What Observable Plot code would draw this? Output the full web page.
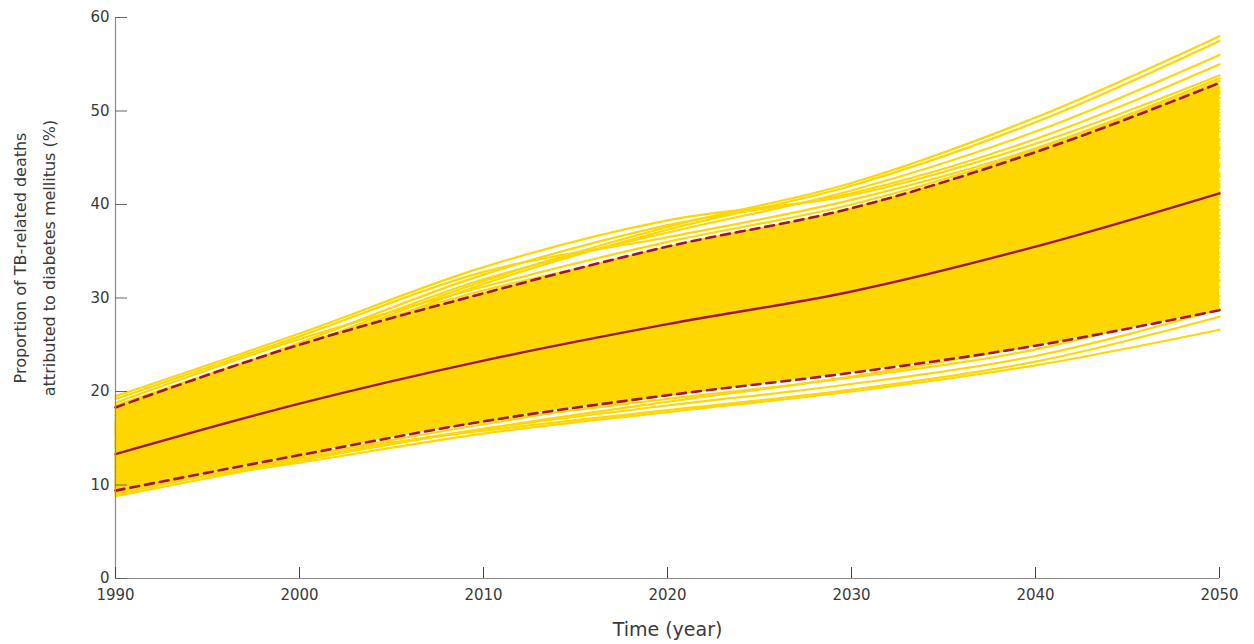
<!DOCTYPE html>
<html>
<head>
<meta charset="utf-8">
<script src="https://cdn.jsdelivr.net/npm/d3@7"></script>
<script src="https://cdn.jsdelivr.net/npm/@observablehq/plot@0.6"></script>
<style>
  html, body { margin: 0; padding: 0; background: #fff; }
  #chart { width: 1254px; height: 644px; }
</style>
</head>
<body>
<div id="chart"></div>
<script>
// ---- Data ----
const years = [1990, 2000, 2010, 2020, 2030, 2040, 2050];

// Individual simulation runs (% of TB-related deaths attributed to diabetes)
const runs = [
  [17.0, 24.5, 31.8, 37.6, 42.3, 49.3, 58.0],
  [16.5, 24.0, 31.5, 37.3, 42.0, 48.8, 57.5],
  [17.5, 24.8, 32.0, 37.0, 41.5, 47.8, 56.0],
  [18.0, 25.2, 32.5, 37.8, 41.2, 47.0, 55.0],
  [19.5, 26.2, 33.3, 38.3, 41.0, 46.5, 53.8],
  [19.2, 25.9, 32.8, 36.5, 40.5, 46.0, 53.5],
  [18.8, 25.6, 31.2, 36.0, 40.0, 45.8, 53.2],
  [18.5, 25.0, 30.8, 35.2, 39.5, 45.4, 52.5],
  [17.8, 24.6, 30.5, 35.0, 39.0, 44.8, 51.8],
  [17.2, 24.0, 30.0, 34.5, 38.6, 44.2, 51.0],
  [16.8, 23.5, 29.5, 34.0, 38.0, 43.5, 50.2],
  [16.3, 23.0, 29.0, 33.5, 37.5, 43.0, 49.5],
  [15.8, 22.5, 28.4, 33.0, 37.0, 42.3, 48.6],
  [15.5, 22.0, 27.8, 32.4, 36.4, 41.6, 47.8],
  [15.0, 21.5, 27.2, 31.8, 35.8, 41.0, 47.0],
  [14.6, 21.0, 26.6, 31.2, 35.1, 40.3, 46.2],
  [14.2, 20.4, 26.0, 30.5, 34.4, 39.5, 45.3],
  [13.8, 19.8, 25.3, 29.8, 33.6, 38.6, 44.4],
  [13.5, 19.3, 24.7, 29.0, 32.8, 37.7, 43.4],
  [13.0, 18.8, 24.0, 28.2, 32.0, 36.8, 42.5],
  [12.7, 18.3, 23.3, 27.5, 31.2, 35.9, 41.4],
  [12.3, 17.7, 22.6, 26.7, 30.4, 35.0, 40.4],
  [12.0, 17.2, 22.0, 26.0, 29.6, 34.1, 39.4],
  [11.6, 16.7, 21.4, 25.2, 28.8, 33.2, 38.4],
  [11.2, 16.2, 20.7, 24.5, 28.0, 32.3, 37.4],
  [10.9, 15.7, 20.1, 23.8, 27.2, 31.4, 36.4],
  [10.5, 15.2, 19.5, 23.1, 26.4, 30.5, 35.4],
  [10.2, 14.8, 18.9, 22.4, 25.6, 29.6, 34.4],
  [9.9, 14.3, 18.3, 21.7, 24.8, 28.7, 33.3],
  [9.6, 13.8, 17.7, 21.0, 24.0, 27.8, 32.2],
  [9.3, 13.4, 17.1, 20.3, 23.2, 26.9, 31.2],
  [9.0, 13.0, 16.5, 19.6, 22.4, 26.0, 30.2],
  [8.8, 12.6, 16.0, 18.9, 21.6, 25.0, 29.4],
  [9.2, 12.8, 16.0, 18.5, 20.8, 23.8, 28.8],
  [10.0, 13.2, 15.8, 18.0, 20.2, 23.2, 28.0],
  [9.5, 12.4, 15.5, 17.8, 20.0, 22.8, 26.6],
  [11.0, 14.0, 16.8, 19.2, 21.5, 24.5, 29.8],
  [17.5, 23.0, 27.5, 31.0, 34.0, 38.5, 44.0],
  [16.0, 21.0, 25.0, 28.3, 31.3, 35.2, 40.0],
  [15.2, 19.8, 23.8, 27.0, 30.0, 33.5, 38.0],
  [10.5, 16.0, 21.5, 26.5, 31.0, 36.5, 43.0],
  [11.5, 17.5, 23.5, 28.8, 33.5, 39.5, 46.5],
  [12.5, 19.0, 25.5, 31.0, 35.5, 41.5, 49.0],
  [14.0, 20.5, 27.0, 32.5, 37.0, 43.0, 50.5],
  [9.8, 14.0, 18.5, 22.8, 26.5, 31.0, 36.0],
  [13.2, 18.0, 22.0, 25.3, 28.4, 32.0, 36.8],
  [16.8, 22.0, 26.5, 30.0, 33.0, 37.0, 42.0],
  [12.0, 16.5, 20.3, 23.6, 26.6, 30.2, 34.8],
  [14.8, 21.8, 28.2, 33.0, 37.2, 42.8, 49.8],
  [18.3, 24.0, 28.8, 32.2, 35.3, 39.8, 45.0],
  [11.0, 15.0, 18.6, 21.5, 24.3, 28.0, 32.8],
  [13.6, 20.8, 27.6, 33.4, 38.2, 44.5, 52.0],
  [15.6, 21.2, 26.0, 29.5, 32.5, 36.2, 41.0],
  [10.2, 15.5, 20.8, 25.5, 29.5, 34.5, 40.8],
  [14.4, 19.0, 23.0, 26.2, 29.2, 33.0, 37.8],
  [12.8, 17.0, 20.6, 23.8, 26.8, 30.8, 35.8],
  [16.2, 22.8, 28.7, 33.6, 38.0, 44.0, 51.4],
  [11.8, 16.0, 19.6, 22.8, 25.8, 29.4, 33.8],
  [9.7, 14.6, 19.2, 23.3, 27.0, 31.6, 37.0],
  [10.8, 15.8, 20.4, 24.3, 27.9, 32.6, 38.0],
  [11.4, 16.9, 21.9, 26.3, 30.2, 35.3, 41.0],
  [12.2, 17.9, 23.0, 27.4, 31.6, 36.8, 43.0],
  [13.4, 19.6, 25.0, 29.5, 33.8, 39.2, 45.8],
  [14.5, 20.9, 26.8, 31.5, 35.9, 41.5, 48.2],
  [15.4, 22.3, 28.5, 33.5, 38.0, 43.8, 50.8],
  [16.6, 23.2, 29.2, 34.2, 38.6, 44.6, 52.2],
  [10.4, 14.5, 18.0, 21.2, 24.0, 27.5, 31.8],
  [12.9, 17.6, 21.7, 25.0, 28.2, 32.4, 37.4],
  [14.1, 19.4, 24.2, 28.0, 31.5, 36.0, 41.8],
  [11.3, 16.4, 21.0, 24.9, 28.5, 33.0, 38.8],
  [9.4, 13.6, 17.5, 20.8, 23.8, 27.4, 31.9],
  [15.9, 21.6, 26.8, 31.0, 34.8, 39.8, 46.0],
  [13.1, 18.6, 23.6, 27.9, 31.8, 36.9, 43.2],
  [10.6, 15.4, 19.9, 23.9, 27.6, 32.4, 38.2],
  [12.4, 17.0, 21.2, 24.8, 28.0, 32.2, 37.0],
  [16.4, 22.9, 28.0, 32.0, 35.6, 40.6, 46.8],
  [11.9, 17.4, 22.4, 26.6, 30.6, 35.8, 42.2],
  [14.7, 20.2, 25.2, 29.2, 33.0, 38.0, 44.2]
];

const median = [13.3, 18.7, 23.3, 27.2, 30.7, 35.5, 41.2];
const upper95 = [18.3, 25.0, 30.5, 35.5, 39.6, 45.6, 53.0];
const lower95 = [9.4, 13.2, 16.8, 19.6, 22.0, 24.9, 28.7];

const xTicks = [1990, 2000, 2010, 2020, 2030, 2040, 2050];
const yTicks = [0, 10, 20, 30, 40, 50, 60];

const xLabel = "Time (year)";
const yLabel = "Proportion of TB-related deaths\nattributed to diabetes mellitus (%)";

// ---- Build long-form tables ----
const runRows = runs.flatMap((r, i) => r.map((v, j) => ({run: i, year: years[j], value: v})));
const toRows = (arr) => arr.map((v, j) => ({year: years[j], value: v}));
const bandRows = years.map((y, j) => ({year: y, lo: lower95[j], hi: upper95[j]}));

const gold = "rgb(255,215,0)";
const crimson = "rgb(160,20,48)";
const axisGray = "#8a8a8a";
const textColor = "#3a3a3a";
const font = "'DejaVu Sans', sans-serif";

const chart = Plot.plot({
  width: 1254,
  height: 644,
  marginLeft: 115,
  marginRight: 35,
  marginTop: 17,
  marginBottom: 66,
  style: {fontFamily: font, fontSize: "15px", color: textColor, background: "#fff"},
  x: {domain: [1990, 2050], ticks: xTicks, tickFormat: d => String(d)},
  y: {domain: [0, 60], ticks: yTicks},
  marks: [
    // dense core of the many simulation runs
    Plot.areaY(bandRows, {x: "year", y1: "lo", y2: "hi", fill: gold, curve: "monotone-x"}),
    Plot.line(runRows, {x: "year", y: "value", z: "run", stroke: gold, strokeWidth: 2.2, curve: "monotone-x"}),
    Plot.line(toRows(upper95), {x: "year", y: "value", stroke: crimson, strokeWidth: 2.6, strokeDasharray: "9,6", curve: "monotone-x"}),
    Plot.line(toRows(lower95), {x: "year", y: "value", stroke: crimson, strokeWidth: 2.6, strokeDasharray: "9,6", curve: "monotone-x"}),
    Plot.line(toRows(median), {x: "year", y: "value", stroke: crimson, strokeWidth: 2.4, curve: "monotone-x"}),
    Plot.ruleX([1990], {stroke: axisGray, strokeWidth: 1.2}),
    Plot.ruleY([0], {stroke: axisGray, strokeWidth: 1.2}),
    Plot.axisX(xTicks, {anchor: "bottom", tickSize: -11, tickPadding: 22, stroke: "#444", fill: textColor, label: null, fontSize: 15, tickFormat: d => String(d)}),
    Plot.axisY(yTicks, {anchor: "left", tickSize: -12, tickPadding: 18, stroke: "#666", fill: textColor, label: null, fontSize: 15}),
    Plot.text([xLabel], {frameAnchor: "bottom", dy: 57, fontSize: 19, fill: textColor}),
    Plot.text([yLabel], {frameAnchor: "left", textAnchor: "middle", lineAnchor: "middle", dx: -84, dy: -40, rotate: -90, fontSize: 16, lineHeight: 1.8, fill: textColor})
  ]
});
document.getElementById("chart").appendChild(chart);
</script>
</body>
</html>
